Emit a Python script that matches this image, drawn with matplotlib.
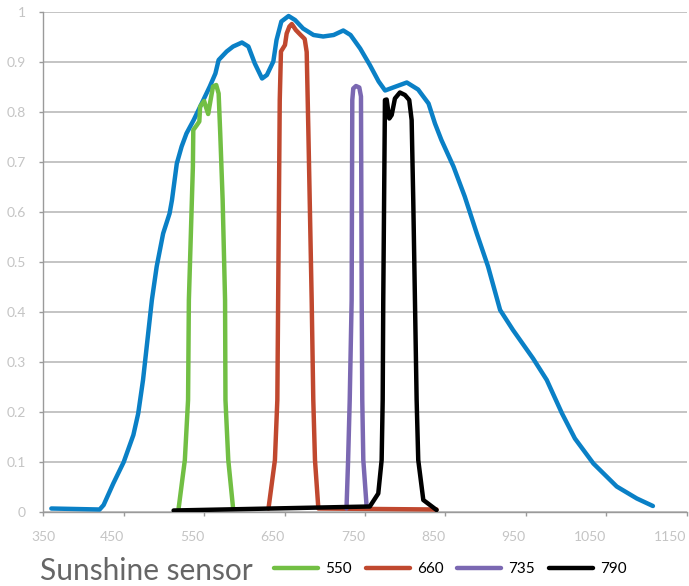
import matplotlib
matplotlib.use("Agg")
import matplotlib.pyplot as plt
from matplotlib.lines import Line2D

plt.rcParams["font.family"] = ["Lato", "DejaVu Sans"]

# sensitivity of the sensor (blue) and of the four bands
sensor_nm = [360, 420, 425, 437, 450, 462, 468, 474, 485, 491, 499, 507, 510, 516,
             522, 528, 537, 549, 557, 564, 568, 578, 586, 597, 605, 613, 622, 628,
             636, 640, 646, 655, 663, 673, 686, 698, 711, 723, 732, 744, 756, 767,
             775, 785, 802, 816, 829, 837, 845, 860, 874, 889, 903, 918, 934, 959,
             976, 995, 1011, 1034, 1063, 1088, 1108]
sensor_val = [0.007, 0.005, 0.014, 0.057, 0.100, 0.154, 0.197, 0.264, 0.424, 0.491,
              0.557, 0.597, 0.624, 0.697, 0.731, 0.757, 0.784, 0.824, 0.851, 0.877,
              0.904, 0.921, 0.931, 0.939, 0.931, 0.897, 0.867, 0.874, 0.901, 0.944,
              0.981, 0.992, 0.984, 0.967, 0.954, 0.951, 0.954, 0.963, 0.954, 0.927,
              0.894, 0.861, 0.843, 0.849, 0.859, 0.845, 0.817, 0.777, 0.744, 0.691,
              0.631, 0.557, 0.491, 0.404, 0.364, 0.307, 0.264, 0.197, 0.147, 0.097,
              0.051, 0.027, 0.012]

nm_550 = [518, 526, 530, 531, 536, 536.5, 541, 544, 545, 550, 552, 555, 558, 561,
          565, 568, 570, 573, 576, 576.5, 580, 586]
val_550 = [0.004, 0.104, 0.224, 0.424, 0.691, 0.764, 0.774, 0.781, 0.811, 0.822,
           0.811, 0.796, 0.824, 0.851, 0.854, 0.837, 0.757, 0.624, 0.424, 0.224,
           0.104, 0.007]

nm_660 = [630, 638, 641, 642, 644, 645.5, 650.5, 652.6, 656, 659, 664, 670, 675,
          677.5, 679.5, 683.7, 685.7, 687.8, 692, 839]
val_660 = [0.007, 0.104, 0.224, 0.424, 0.824, 0.921, 0.934, 0.957, 0.971, 0.976,
           0.964, 0.954, 0.946, 0.920, 0.768, 0.424, 0.224, 0.104, 0.007, 0.005]

nm_735 = [727, 729, 731, 733.4, 734.2, 735.4, 738.8, 742.9, 745, 745.9, 746.6,
          747.9, 752]
val_735 = [0.007, 0.104, 0.224, 0.424, 0.824, 0.847, 0.852, 0.849, 0.831, 0.424,
           0.224, 0.104, 0.011]

nm_790 = [512, 756, 766.5, 770.7, 772, 772.7, 774.8, 776.9, 780.2, 783.2, 787.2,
          793.4, 799.7, 805, 808, 810, 812.1, 814.2, 816.2, 822.5, 839]
val_790 = [0.003, 0.011, 0.037, 0.104, 0.224, 0.424, 0.824, 0.825, 0.787, 0.794,
           0.827, 0.839, 0.834, 0.824, 0.784, 0.624, 0.424, 0.224, 0.104, 0.024,
           0.004]

band_labels = ["550", "660", "735", "790"]
x_ticks = [350, 450, 550, 650, 750, 850, 950, 1050, 1150]
y_ticks = [0, 0.1, 0.2, 0.3, 0.4, 0.5, 0.6, 0.7, 0.8, 0.9, 1]

BLUE = "#0a80c6"
band_colors = ["#72bf44", "#c0482f", "#7b68b2", "#000000"]

W, H = 689, 586
fig = plt.figure(figsize=(W / 100, H / 100), dpi=100)
ax = fig.add_axes([43.3 / W, 1 - 512 / H, (686.7 - 43.3) / W, 500 / H])

lw = 3.2
ax.plot(sensor_nm, sensor_val, color=BLUE, lw=lw, solid_joinstyle="round",
        solid_capstyle="round", zorder=3)
bands = [(nm_550, val_550), (nm_660, val_660), (nm_735, val_735), (nm_790, val_790)]
for (xs, ys), c in zip(bands, band_colors):
    ax.plot(xs, ys, color=c, lw=lw, solid_joinstyle="round",
            solid_capstyle="round", zorder=4)

ax.set_xlim(350, 1150)
ax.set_ylim(0, 1)
ax.set_xticks(x_ticks)
ax.set_yticks(y_ticks)
ax.set_yticklabels([f"{v:g}" for v in y_ticks])
ax.set_xticklabels([str(v) for v in x_ticks])
for i, lab in enumerate(ax.get_xticklabels()):
    lab.set_ha("center" if i == 0 else "right")

ax.grid(axis="y", color="#b4b4b4", lw=1.1, zorder=1)
ax.set_axisbelow(True)
for s in ["top", "right"]:
    ax.spines[s].set_visible(False)
for s in ["left", "bottom"]:
    ax.spines[s].set_color("#9a9a9a")
    ax.spines[s].set_linewidth(1.0)
ax.tick_params(axis="both", colors="#9a9a9a", length=3, width=1.0,
               labelcolor="#c4c4c4", labelsize=10)
ax.tick_params(axis="x", pad=10.5)
ax.tick_params(axis="y", pad=9.5)

fig.text(40 / W, 1 - 580.5 / H, "Sunshine sensor", fontsize=21.5, color="#666666",
         ha="left", va="baseline")

handles = [Line2D([0], [0], color=c, lw=3.2, solid_capstyle="round") for c in band_colors]
fig.legend(handles, band_labels, loc="center left", bbox_to_anchor=(274 / W, 1 - 569 / H),
           ncol=4, frameon=False, fontsize=11, handlelength=2.9, handletextpad=0.45,
           columnspacing=0.9, borderpad=0, borderaxespad=0)

fig.savefig("out.png", dpi=100)
